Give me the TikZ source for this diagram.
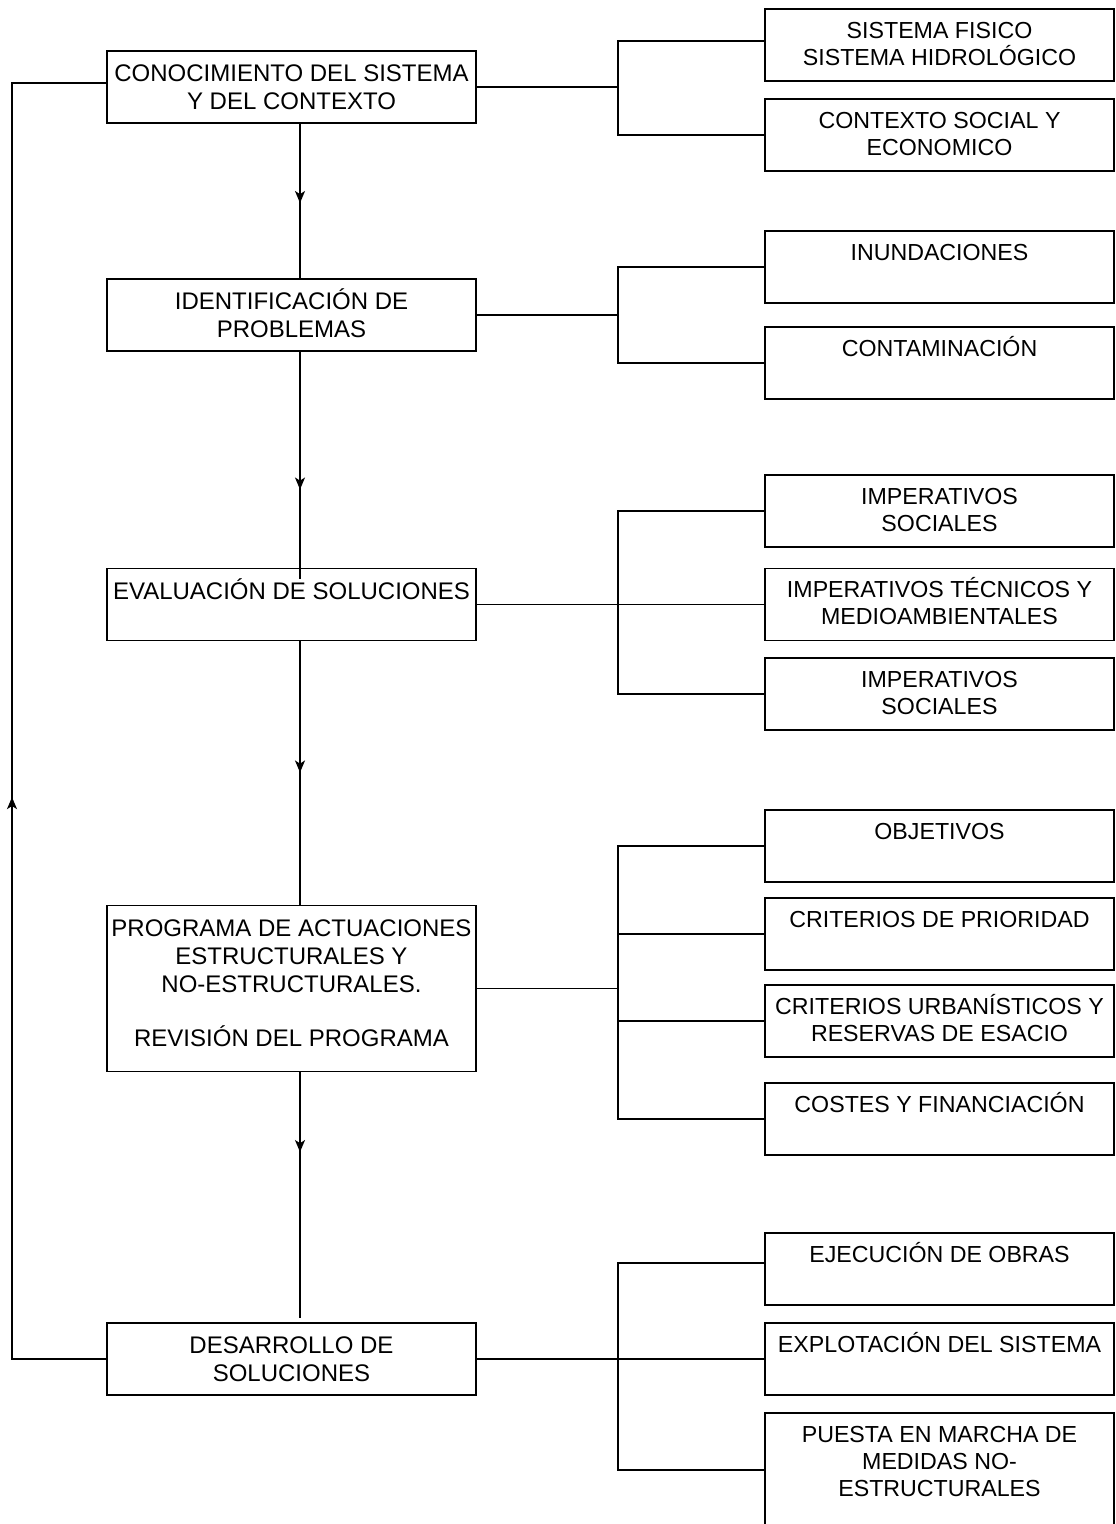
\documentclass[tikz,border=0pt]{standalone}
\usepackage{fontspec}
\setmainfont{Liberation Sans}
\usepackage{tikz}
\usetikzlibrary{arrows.meta, positioning, calc, decorations.markings}

\newcommand{\firststrut}{\rule{0pt}{11.5pt}}

\begin{document}
\begin{tikzpicture}[x=0.5pt, y=-0.5pt,
    stage/.style={rectangle, draw=black, line width=0.9pt, minimum width=184.5pt, minimum height=36pt, inner sep=0pt},
    item/.style={rectangle, draw=black, line width=0.8pt, minimum width=174.5pt, minimum height=36pt, inner sep=0pt},
    stagetext/.style={anchor=north, align=center, inner sep=4pt, font=\fontsize{12}{14}\selectfont},
    itemtext/.style={anchor=north, align=center, inner sep=3.25pt, font=\fontsize{11.6}{13.5}\selectfont},
    line/.style={draw, line width=0.85pt},
    midarrow/.style={line, postaction={decorate}, decoration={markings, mark=at position #1 with {\arrow{Stealth[length=6pt, width=5pt, inset=1.6pt]}}}}]

    \clip (0,0) rectangle (1115,1524);

    % main column
    \node [stage] (conocimiento) at (291.5, 87) {};
    \node [stage] (identificacion) at (291.5, 315) {};
    \node [stage] (evaluacion) at (291.5, 604.5) {};
    \node [stage, minimum height=83pt] (programa) at (291.5, 988.5) {};
    \node [stage] (desarrollo) at (291.5, 1359) {};

    \node [stagetext, below=0pt of conocimiento.north] (conocimientotext) {\firststrut CONOCIMIENTO DEL SISTEMA\\Y DEL CONTEXTO};
    \node [stagetext, below=0pt of identificacion.north] (identificaciontext) {\firststrut IDENTIFICACIÓN DE\\PROBLEMAS};
    \node [stagetext, below=0pt of evaluacion.north] (evaluaciontext) {\firststrut EVALUACIÓN DE SOLUCIONES};
    \node [stagetext, below=0pt of programa.north] (programatext) {\firststrut PROGRAMA DE ACTUACIONES\\ESTRUCTURALES Y\\NO-ESTRUCTURALES.\\[13pt]REVISIÓN DEL PROGRAMA};
    \node [stagetext, below=0pt of desarrollo.north] (desarrollotext) {\firststrut DESARROLLO DE\\SOLUCIONES};

    % right column
    \node [item] (fisico) at (939.5, 45) {};
    \node [item] (social) at (939.5, 135) {};
    \node [item] (inundaciones) at (939.5, 267) {};
    \node [item] (contaminacion) at (939.5, 363) {};
    \node [item] (impsocial) at (939.5, 511) {};
    \node [item] (imptecnico) at (939.5, 604.5) {};
    \node [item] (impsocialb) at (939.5, 694) {};
    \node [item] (objetivos) at (939.5, 846) {};
    \node [item] (prioridad) at (939.5, 934) {};
    \node [item] (urbanismo) at (939.5, 1021) {};
    \node [item] (costes) at (939.5, 1119) {};
    \node [item] (obras) at (939.5, 1269) {};
    \node [item] (explotacion) at (939.5, 1359) {};
    \node [item, minimum height=57pt] (medidas) at (939.5, 1470) {};

    \node [itemtext, below=0pt of fisico.north] (fisicotext) {\firststrut SISTEMA FISICO\\SISTEMA HIDROLÓGICO};
    \node [itemtext, below=0pt of social.north] (socialtext) {\firststrut CONTEXTO SOCIAL Y\\ECONOMICO};
    \node [itemtext, below=0pt of inundaciones.north] (inundacionestext) {\firststrut INUNDACIONES};
    \node [itemtext, below=0pt of contaminacion.north] (contaminaciontext) {\firststrut CONTAMINACIÓN};
    \node [itemtext, below=0pt of impsocial.north] (impsocialtext) {\firststrut IMPERATIVOS\\SOCIALES};
    \node [itemtext, below=0pt of imptecnico.north] (imptecnicotext) {\firststrut IMPERATIVOS TÉCNICOS Y\\MEDIOAMBIENTALES};
    \node [itemtext, below=0pt of impsocialb.north] (impsocialbtext) {\firststrut IMPERATIVOS\\SOCIALES};
    \node [itemtext, below=0pt of objetivos.north] (objetivostext) {\firststrut OBJETIVOS};
    \node [itemtext, below=0pt of prioridad.north] (prioridadtext) {\firststrut CRITERIOS DE PRIORIDAD};
    \node [itemtext, below=0pt of urbanismo.north] (urbanismotext) {\firststrut CRITERIOS URBANÍSTICOS Y\\RESERVAS DE ESACIO};
    \node [itemtext, below=0pt of costes.north] (costestext) {\firststrut COSTES Y FINANCIACIÓN};
    \node [itemtext, below=0pt of obras.north] (obrastext) {\firststrut EJECUCIÓN DE OBRAS};
    \node [itemtext, below=0pt of explotacion.north] (explotaciontext) {\firststrut EXPLOTACIÓN DEL SISTEMA};
    \node [itemtext, below=0pt of medidas.north] (medidastext) {\firststrut PUESTA EN MARCHA DE\\MEDIDAS NO-\\ESTRUCTURALES};

    \coordinate (spine) at (300, 0);
    \coordinate (loop) at (12, 0);
    \coordinate (fork) at (618, 0);

    % flow down the column
    \path [midarrow=0.513] (conocimiento.south -| spine) -- (identificacion.north -| spine);
    \path [midarrow=0.607] (identificacion.south -| spine) -- ($(evaluacion.north -| spine)+(0,11)$);
    \path [midarrow=0.498] (evaluacion.south -| spine) -- (programa.north -| spine);
    \path [midarrow=0.324] (programa.south -| spine) -- ($(desarrollo.north -| spine)+(0,-4)$);

    % feedback loop
    \path [midarrow=0.448] (desarrollo.west) -- (desarrollo.west -| loop) -- ($(conocimiento.west -| loop)+(0,-4)$) -- ($(conocimiento.west)+(0,-4)$);

    % brackets
    \path [line] (conocimiento.east) -- (conocimiento.east -| fork);
    \path [line] ($(fisico.west)+(0,-4)$) -- ($(fisico.west -| fork)+(0,-4)$) -- (social.west -| fork) -- (social.west);

    \path [line] (identificacion.east) -- (identificacion.east -| fork);
    \path [line] (inundaciones.west) -- (inundaciones.west -| fork) -- (contaminacion.west -| fork) -- (contaminacion.west);

    \path [line] (evaluacion.east) -- (imptecnico.west);
    \path [line] (impsocial.west) -- (impsocial.west -| fork) -- (impsocialb.west -| fork) -- (impsocialb.west);

    \path [line] (programa.east) -- (programa.east -| fork);
    \path [line] (objetivos.west) -- (objetivos.west -| fork) -- (costes.west -| fork) -- (costes.west);
    \path [line] (prioridad.west -| fork) -- (prioridad.west);
    \path [line] (urbanismo.west -| fork) -- (urbanismo.west);

    \path [line] (desarrollo.east) -- (explotacion.west);
    \path [line] ($(obras.west)+(0,-6)$) -- ($(obras.west -| fork)+(0,-6)$) -- (medidas.west -| fork) -- (medidas.west);
\end{tikzpicture}
\end{document}
